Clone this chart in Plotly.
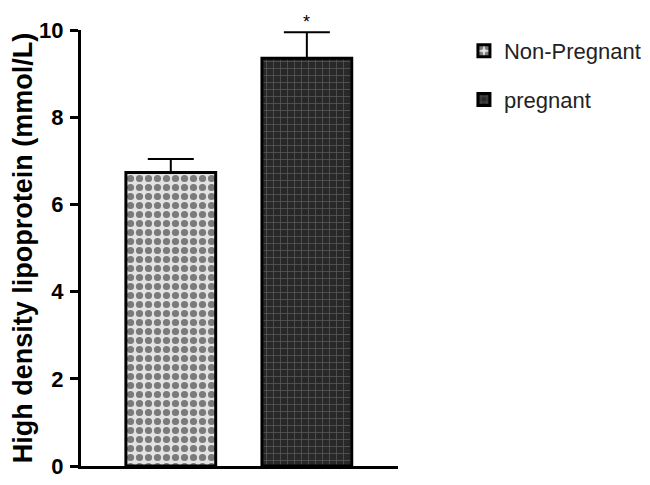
import plotly.graph_objects as go

groups = ["Non-Pregnant", "pregnant"]
means = [6.73, 9.35]
sem_upper = [0.31, 0.60]
ytick_vals = [0, 2, 4, 6, 8, 10]

fig = go.Figure()
fig.add_trace(go.Bar(
    x=[0], y=[means[0]], name=groups[0], width=0.66, legendgroup="a",
    marker=dict(color="#d4d4d4", line=dict(color="black", width=3),
                pattern=dict(shape=".", fgcolor="#111111", bgcolor="#e2e2e2", size=9, solidity=0.5)),
    error_y=dict(type="data", symmetric=False, array=[sem_upper[0]], arrayminus=[0],
                 color="black", thickness=2, width=23),
))
fig.add_trace(go.Bar(
    x=[1], y=[means[1]], name=groups[1], width=0.66, legendgroup="b",
    marker=dict(color="#2b2b2b", line=dict(color="black", width=3),
                pattern=dict(shape="+", fgcolor="#8c8c8c", bgcolor="#282828", size=7, solidity=0.2)),
    error_y=dict(type="data", symmetric=False, array=[sem_upper[1]], arrayminus=[0],
                 color="black", thickness=2, width=23),
))
fig.add_annotation(x=1, y=means[1] + sem_upper[1], text="*", showarrow=False,
                   yanchor="bottom", yshift=-2, font=dict(size=18, color="black", family="Liberation Sans"))

fig.update_layout(
    width=650, height=485,
    margin=dict(l=73, r=260, t=22, b=27),
    plot_bgcolor="white", paper_bgcolor="white",
    barmode="overlay",
    font=dict(family="Liberation Sans, Arial, sans-serif", color="black"),
    xaxis=dict(range=[-0.66, 1.67], showticklabels=False, ticks="", showgrid=False,
               showline=True, linecolor="black", linewidth=3, zeroline=False, fixedrange=True,
               automargin=False),
    yaxis=dict(range=[0, 10], tickvals=ytick_vals, ticks="outside", ticklen=8, tickwidth=2.5,
               tickcolor="black", showgrid=False, showline=True, linecolor="black", linewidth=3,
               zeroline=False, automargin=False, ticklabelstandoff=2,
               tickfont=dict(size=22, family="Liberation Sans, Arial, sans-serif", color="black", weight="bold"),
               title=dict(text="<b>High density lipoprotein (mmol/L)</b>", standoff=4,
                          font=dict(size=27, color="black"))),
    legend=dict(x=1.208, y=1.0, xanchor="left", yanchor="top",
                font=dict(size=22, color="#222"), tracegroupgap=17),
    showlegend=True,
)
fig.write_html("out.html")
